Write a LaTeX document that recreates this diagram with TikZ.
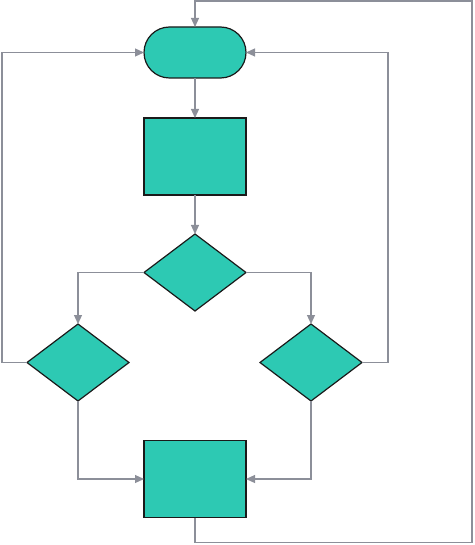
\documentclass[tikz,border=0pt]{standalone}
\usetikzlibrary{shapes.geometric,arrows.meta}
\definecolor{tealfill}{HTML}{2DC9B3}
\definecolor{edgecol}{HTML}{8C8F99}
\definecolor{bordercol}{HTML}{1A1A1A}
\begin{document}
\begin{tikzpicture}[x=1pt,y=-1pt,
  box/.style={draw=bordercol,fill=tealfill,line width=1.2pt,minimum width=102pt,minimum height=77pt,inner sep=0pt,outer sep=0pt},
  term/.style={box,minimum height=51pt,rounded corners=25.5pt},
  dia/.style={box,diamond,aspect=1.3247,minimum width=102pt,minimum height=77pt},
  conn/.style={draw=edgecol,line width=1.2pt,-{Triangle[length=9pt,width=8pt]}},
  line/.style={draw=edgecol,line width=1.2pt}]
\useasboundingbox (0,0) rectangle (474,545);
\node[term] (t) at (195,52.5) {};
\node[box] (r1) at (195,156.5) {};
\node[dia] (d1) at (195,272.5) {};
\node[dia] (dl) at (78,362.5) {};
\node[dia] (dr) at (311,362.5) {};
\node[box] (r2) at (195,479) {};
\coordinate (c1) at (2,52.5);
\coordinate (c2) at (388,52.5);
\path[conn] (t) -- (r1);
\path[conn] (r1) -- (d1);
\path[conn] (d1.west) -| (dl.north);
\path[conn] (d1.east) -| (dr.north);
\path[conn] (dl.west) -| (c1) -- (t.west);
\path[conn] (dr.east) -| (c2) -- (t.east);
\path[conn] (dl.south) |- (r2.west);
\path[conn] (dr.south) |- (r2.east);
\path[conn] (r2.south) -- ++(0,25) -| (472,1) -| (t.north);
\end{tikzpicture}
\end{document}
